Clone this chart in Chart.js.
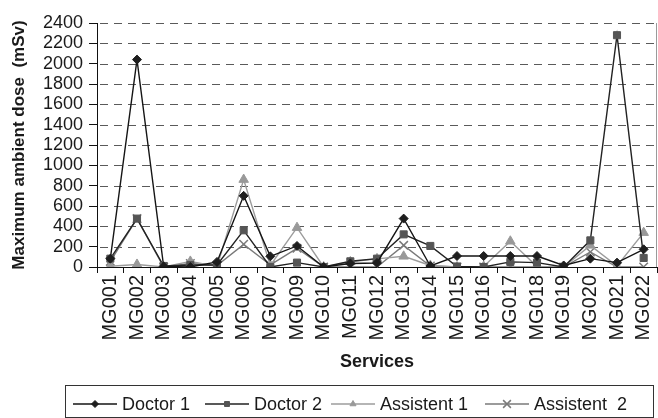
<!DOCTYPE html>
<html>
<head>
<meta charset="utf-8">
<script src="https://cdn.jsdelivr.net/npm/chart.js@4.4.1/dist/chart.umd.min.js"></script>
<style>
  html, body { margin: 0; padding: 0; background: #ffffff; }
  #wrap { width: 658px; height: 418px; position: relative; }
</style>
</head>
<body>
<div id="wrap"><canvas id="chart" width="658" height="418"></canvas></div>
<script>
// Services surveyed (MG008 is not part of the series)
const services = ['MG001','MG002','MG003','MG004','MG005','MG006','MG007','MG009','MG010','MG011',
                  'MG012','MG013','MG014','MG015','MG016','MG017','MG018','MG019','MG020','MG021','MG022'];

// Maximum ambient dose per service (mSv)
const doctor1     = [82, 2040, 5, 0, 50, 700, 105, 207, 0, 35, 40, 476, 10, 108, 108, 108, 108, 15, 82, 43, 174];
const doctor2     = [82, 476, 10, 20, 20, 361, 0, 43, 0, 56, 82, 321, 207, 5, 0, 50, 43, 0, 262, 2280, 89];
const assistent1  = [8, 25, 0, 55, 5, 860, 15, 387, 0, 50, 80, 105, 15, 0, 5, 253, 5, 0, 213, 10, 338];
const assistent2  = [55, 476, 0, 35, 15, 223, 20, 184, 0, 0, 0, 213, 10, 0, 0, 0, 0, 0, 148, 0, 0];

const seriesNames = ['Doctor 1', 'Doctor 2', 'Assistent 1', 'Assistent  2'];

// Dose axis range
const doseMin = 0;
const doseMax = 2400;
const doseStep = 200;

const FONT = "'Liberation Sans', Arial, Helvetica, sans-serif";

const styles = [
  { line: '#151515', fill: '#1e1e1e', stroke: '#1e1e1e', shape: 'rectRot', r: 4.5, lr: 3.5, bw: 1 },
  { line: '#222222', fill: '#555555', stroke: '#555555', shape: 'rect',    r: 5,   lr: 3.5, bw: 1 },
  { line: '#9c9c9c', fill: '#999999', stroke: '#999999', shape: 'triangle',r: 5.5, lr: 3.5, bw: 1 },
  { line: '#7a7a7a', fill: '#7a7a7a', stroke: '#7a7a7a', shape: 'crossRot',r: 6,   lr: 5.5, bw: 1.5 }
];

const seriesData = [doctor1, doctor2, assistent1, assistent2];

const datasets = seriesData.map((vals, i) => ({
  label: seriesNames[i],
  data: vals,
  borderColor: styles[i].line,
  borderWidth: 1.4,
  backgroundColor: styles[i].fill,
  pointStyle: styles[i].shape,
  pointRadius: styles[i].r,
  pointBackgroundColor: styles[i].fill,
  pointBorderColor: styles[i].stroke,
  pointBorderWidth: styles[i].bw,
  tension: 0,
  fill: false
}));

// Dashed horizontal grid at every dose tick above zero
const dashedGrid = {
  id: 'dashedGrid',
  beforeDatasetsDraw(chart) {
    const { ctx, chartArea, scales } = chart;
    const y = scales.y;
    ctx.save();
    ctx.fillStyle = '#5a5a5a';
    y.ticks.forEach(t => {
      if (t.value <= doseMin) return;
      const py = Math.round(y.getPixelForValue(t.value));
      for (let x = chartArea.left + 3; x < chartArea.right - 1; x += 14) {
        ctx.fillRect(Math.round(x), py, Math.min(8, chartArea.right - 1 - x), 1);
      }
    });
    ctx.restore();
  }
};

// Frame on the right side of the plot and the boxed legend underneath
const frameAndLegend = {
  id: 'frameAndLegend',
  afterDraw(chart) {
    const { ctx, chartArea } = chart;
    ctx.save();
    ctx.fillStyle = '#9a9a9a';
    ctx.fillRect(Math.round(chartArea.right) - 1, Math.round(chartArea.top), 1, Math.round(chartArea.bottom - chartArea.top));

    // legend box
    ctx.strokeStyle = '#333333';
    ctx.lineWidth = 1;
    ctx.strokeRect(65.5, 385.5, 588, 32);

    const ly = 404;
    const starts = [73, 205, 331, 485];
    ctx.font = '18px ' + FONT;
    ctx.textBaseline = 'middle';
    ctx.textAlign = 'left';
    seriesNames.forEach((name, i) => {
      const s = styles[i];
      const x0 = starts[i];
      ctx.strokeStyle = s.line;
      ctx.lineWidth = 1.4;
      ctx.beginPath();
      ctx.moveTo(x0, ly);
      ctx.lineTo(x0 + 44, ly);
      ctx.stroke();
      ctx.fillStyle = s.fill;
      ctx.strokeStyle = s.stroke;
      ctx.lineWidth = s.bw;
      Chart.helpers.drawPoint(ctx, { pointStyle: s.shape, radius: s.lr, rotation: 0, borderWidth: s.bw }, x0 + 22, ly);
      ctx.fillStyle = '#1a1a1a';
      ctx.fillText(name, x0 + 49, ly + 1);
    });
    ctx.restore();
  }
};

// The rotated service labels sit inside their category slots, so the
// category axis needs no extra side padding.
function noSidePadding(scale) {
  scale.paddingLeft = 0;
  scale.paddingRight = 0;
}

new Chart(document.getElementById('chart'), {
  type: 'line',
  data: { labels: services, datasets },
  options: {
    responsive: false,
    animation: false,
    devicePixelRatio: 1,
    layout: { autoPadding: false, padding: { left: 0, right: 1, top: 23, bottom: 33 } },
    plugins: { legend: { display: false }, tooltip: { enabled: false } },
    scales: {
      x: {
        type: 'category',
        offset: true,
        grid: {
          display: true,
          drawOnChartArea: false,
          drawTicks: true,
          tickLength: 6,
          tickColor: '#111111',
          offset: true
        },
        border: { display: true, color: '#111111', width: 1 },
        ticks: {
          autoSkip: false,
          maxRotation: 90,
          minRotation: 90,
          padding: 2,
          color: '#1a1a1a',
          font: { family: FONT, size: 20 }
        },
        title: {
          display: true,
          text: 'Services',
          color: '#1a1a1a',
          font: { family: FONT, size: 18, weight: 'bold' },
          padding: { top: 0, bottom: 12 }
        },
        afterFit(scale) {
          scale.height = 118;
          noSidePadding(scale);
        },
        afterUpdate(scale) { noSidePadding(scale); }
      },
      y: {
        min: doseMin,
        max: doseMax,
        grid: {
          display: true,
          drawOnChartArea: false,
          drawTicks: true,
          tickLength: 8,
          tickColor: '#111111'
        },
        border: { display: true, color: '#111111', width: 1 },
        ticks: {
          stepSize: doseStep,
          autoSkip: false,
          padding: 6,
          color: '#1a1a1a',
          font: { family: FONT, size: 18 },
          callback: (v) => String(v)
        },
        title: {
          display: true,
          text: 'Maximum ambient dose  (mSv)',
          color: '#1a1a1a',
          font: { family: FONT, size: 17, weight: 'bold' },
          padding: { top: 9, bottom: 0 }
        },
        afterFit(scale) { scale.width = 97; }
      }
    }
  },
  plugins: [dashedGrid, frameAndLegend]
});
</script>
</body>
</html>
